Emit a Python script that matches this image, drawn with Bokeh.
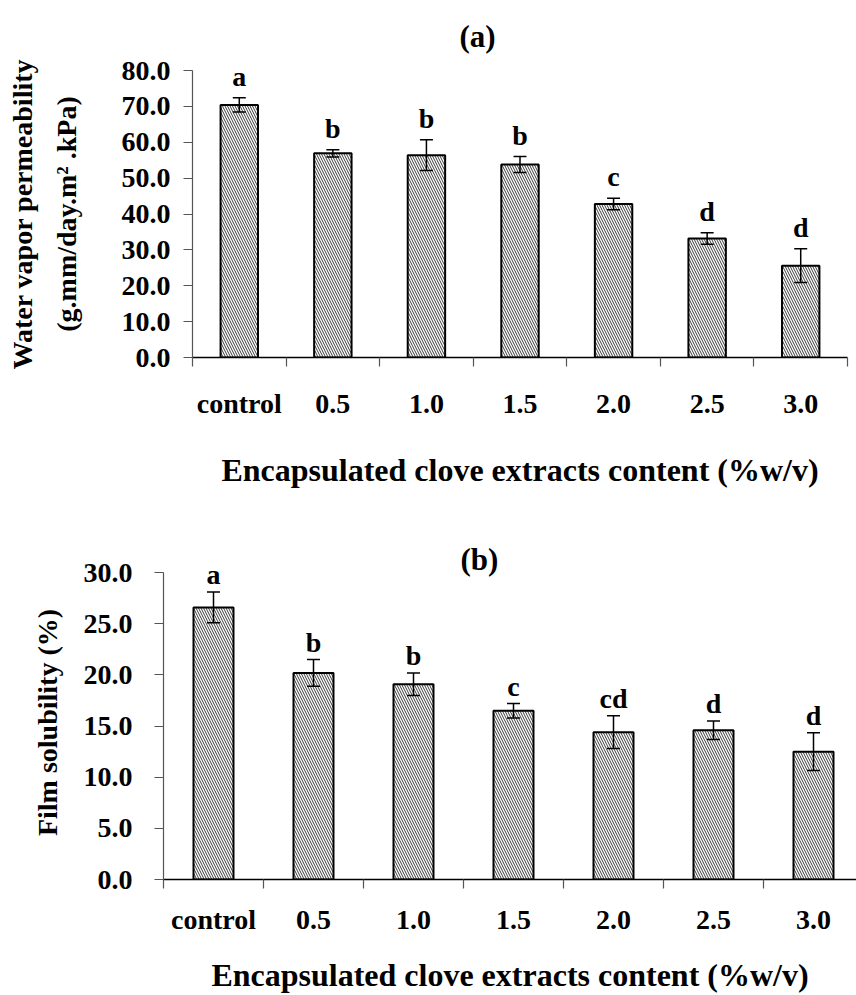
from bokeh.plotting import figure
from bokeh.models import (Range1d, FixedTicker, NumeralTickFormatter, Whisker, ColumnDataSource,
                          LabelSet, TeeHead, CustomJSTickFormatter, LinearAxis)
from bokeh.layouts import column
from bokeh.embed import file_html
from bokeh.resources import INLINE

# ---------------- data ----------------
categories = ["control", "0.5", "1.0", "1.5", "2.0", "2.5", "3.0"]

wvp_mean = [70.4, 56.9, 56.4, 53.8, 42.8, 33.2, 25.6]
wvp_sd = [2.0, 1.0, 4.3, 2.2, 1.6, 1.6, 4.7]
wvp_letters = ["a", "b", "b", "b", "c", "d", "d"]
wvp_ticks = [0, 10, 20, 30, 40, 50, 60, 70, 80]

sol_mean = [26.6, 20.2, 19.1, 16.5, 14.4, 14.6, 12.5]
sol_sd = [1.5, 1.3, 1.1, 0.7, 1.6, 0.9, 1.85]
sol_letters = ["a", "b", "b", "c", "cd", "d", "d"]
sol_ticks = [0, 5, 10, 15, 20, 25, 30]

x_title = "Encapsulated clove extracts content (%w/v)"
FONT = "Liberation Serif"


def make_panel(mean, sd, letters, yticks, ymax, yshow, xend, height, borders, ystandoff,
               xstandoff, xtitle_standoff, letter_gap, title, title_offset, title_standoff,
               ylabel, ylabel_standoff, ylabel2=None, ylabel2_standoff=0):
    n = len(categories)
    xs = [i + 0.5 for i in range(n)]
    src = ColumnDataSource(dict(
        x=xs, top=mean,
        upper=[m + s for m, s in zip(mean, sd)],
        lower=[m - s for m, s in zip(mean, sd)],
        letters=letters))
    bt, bb, bl, br = borders
    p = figure(width=856, height=height, output_backend="svg", toolbar_location=None,
               x_range=Range1d(0, xend), y_range=Range1d(0, ymax),
               min_border_top=bt, min_border_bottom=bb, min_border_left=bl,
               min_border_right=br, background_fill_color="white",
               border_fill_color="white", outline_line_color=None,
               title=title)
    p.frame_align = False
    p.xgrid.visible = False
    p.ygrid.visible = False

    p.title.align = "left"
    p.title.offset = title_offset
    p.title.standoff = title_standoff
    p.title.text_font = FONT
    p.title.text_font_style = "bold"
    p.title.text_font_size = "31px"
    p.title.text_color = "black"

    p.vbar(x="x", top="top", bottom=0, width=0.4, source=src,
           fill_color="white", line_color="black", line_width=2,
           hatch_pattern="left_diagonal_line", hatch_scale=5, hatch_weight=1,
           hatch_color="#3a3a3a")

    w = Whisker(base="x", upper="upper", lower="lower", source=src,
                line_color="black", line_width=1.5, level="annotation",
                upper_head=TeeHead(size=13, line_color="black", line_width=1.5),
                lower_head=TeeHead(size=13, line_color="black", line_width=1.5))
    p.add_layout(w)

    ls = LabelSet(x="x", y="upper", text="letters", source=src,
                  text_font=FONT, text_font_style="bold", text_font_size="28px",
                  text_align="center", text_baseline="alphabetic", y_offset=letter_gap,
                  text_color="black")
    p.add_layout(ls)

    # y axis
    ya = p.yaxis[0]
    ya.ticker = FixedTicker(ticks=yticks)
    ya.formatter = NumeralTickFormatter(format="0.0")
    ya.bounds = (0, yshow)
    ya.major_label_text_font = FONT
    ya.major_label_text_font_style = "bold"
    ya.major_label_text_font_size = "28px"
    ya.major_label_text_color = "black"
    ya.major_tick_out = 9
    ya.major_tick_in = 0
    ya.minor_tick_out = 0
    ya.minor_tick_in = 0
    ya.axis_line_color = "#555555"
    ya.axis_line_width = 1.2
    ya.major_tick_line_color = "#555555"
    ya.major_tick_line_width = 1.2
    ya.major_label_standoff = ystandoff
    ya.axis_label = ylabel
    ya.axis_label_text_font = FONT
    ya.axis_label_text_font_style = "bold"
    ya.axis_label_text_font_size = "28px"
    ya.axis_label_text_color = "black"
    ya.axis_label_standoff = ylabel_standoff

    if ylabel2 is not None:
        extra = LinearAxis(ticker=FixedTicker(ticks=[]), axis_label=ylabel2,
                           axis_line_color=None, major_tick_line_color=None,
                           minor_tick_line_color=None,
                           axis_label_text_font=FONT, axis_label_text_font_style="bold",
                           axis_label_text_font_size="28px", axis_label_text_color="black",
                           axis_label_standoff=ylabel2_standoff,
                           major_label_text_font_size="1px")
        p.add_layout(extra, "left")

    # x axis
    xa = p.xaxis[0]
    xa.ticker = FixedTicker(ticks=xs, minor_ticks=list(range(n + 1)))
    xa.formatter = CustomJSTickFormatter(args=dict(labels=categories),
                                         code="const i = Math.round(tick - 0.5); return labels[i] || '';")
    xa.major_label_text_font = FONT
    xa.major_label_text_font_style = "bold"
    xa.major_label_text_font_size = "28px"
    xa.major_label_text_color = "black"
    xa.major_tick_out = 0
    xa.major_tick_in = 0
    xa.minor_tick_out = 9
    xa.minor_tick_in = 0
    xa.minor_tick_line_color = "#555555"
    xa.minor_tick_line_width = 1.2
    xa.axis_line_color = "black"
    xa.axis_line_width = 1.5
    xa.major_label_standoff = xstandoff
    xa.axis_label = x_title
    xa.axis_label_text_font = FONT
    xa.axis_label_text_font_style = "bold"
    xa.axis_label_text_font_size = "32px"
    xa.axis_label_text_color = "black"
    xa.axis_label_standoff = xtitle_standoff
    return p


p1 = make_panel(wvp_mean, wvp_sd, wvp_letters, wvp_ticks, 80, 80, 7, 490,
                (69, 130, 192, 9), 13, 21, 30, 12, "(a)", 267, 33,
                "(g.mm/day.m\u00b2 .kPa)", 37, "Water vapor permeability", 10)

p2 = make_panel(sol_mean, sol_sd, sol_letters, sol_ticks, 30.7, 30, 6.93, 505,
                (75, 113, 163, 0), 22, 15, 19, 8, "(b)", 297, -23,
                "Film solubility (%)", 18)

layout = column(p1, p2, spacing=0)
open("out.html", "w").write(file_html(layout, INLINE))
